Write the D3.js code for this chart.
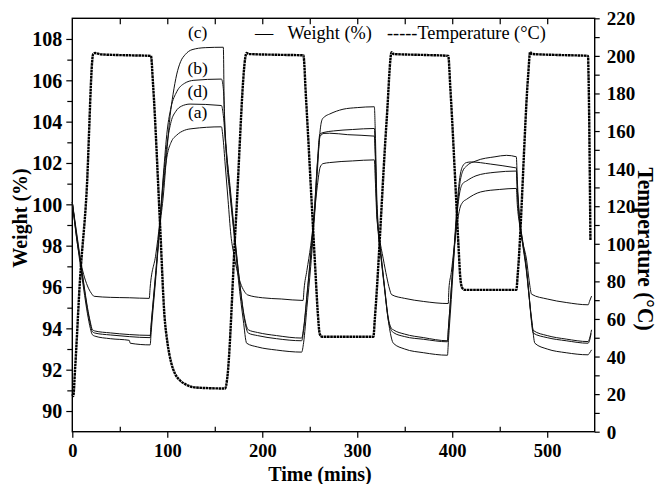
<!DOCTYPE html>
<html><head><meta charset="utf-8">
<script src="https://cdn.jsdelivr.net/npm/d3@7"></script>
<style>
html,body{margin:0;padding:0;background:#fff;}
svg{display:block;font-family:"Liberation Serif","Times New Roman",serif;}
</style></head>
<body><svg id="chart" width="658" height="484"></svg>
<script>
// ---------- data ----------
const tempTime = [0,1,3,8,15,22,24,30,60,82.8, 85,92.5,97,100,104,108,113,120,130,161, 163,172,183.5,186,215,243.3, 246,252,256,258.5,260.5,263,290,317, 318.5,331,336.2,338,370,395.8, 398,404,407,408.5,410.5,413,440,467.5, 469,480,482,484,510,543,543.5,545.5];
const tempValues = [20,19,34,80,127,201,201.5,200.8,200.3,200, 185,109,62,48,37,31,27.5,25,23.5,23, 28,110,201.5,201,200.6,200.3, 178,122,85,63,52,50.5,50.5,50.5, 60,166,202,201,200.5,200, 183,125,95,82,76.5,75.5,75.5,75.5, 84,190,202,201,200.5,200,190,102];

const timeA = [0,2,5,8,12,16,20,23,40,60,81, 82,88,92,96,100,104,110,118,126,157, 158.5,161,164,167,170,173,177,181,184.5, 200,220,243, 244,247,251,255,258,261,264,271,295,318, 319,320.5,323,327.4,331,334,336.2, 350,370,395.8, 396.5,399,402,405,408,411,415,430,450,467.5, 468.5,471,474,478.3,481,483.6, 500,520,543.2, 544.5,546.7];
const weightA = [100.1,99.3,98.2,97.4,96.6,96.05,95.7,95.55,95.5,95.48,95.45, 96.0,97.6,99.1,101.0,102.4,103.0,103.35,103.58,103.66,103.75, 103.3,101.9,100.2,98.5,97.6,96.9,96.2,95.8,95.62, 95.48,95.42,95.35, 95.9,96.8,98.0,99.6,100.9,101.8,101.97,102.02,102.1,102.15, 101.2,99.5,98.5,97.36,96.5,95.9,95.63, 95.45,95.3,95.2, 95.9,96.7,97.9,99.0,99.8,100.1,100.24,100.6,100.72,100.77, 100.0,99.0,98.2,97.3,96.3,95.65, 95.42,95.25,95.14, 95.3,95.56];

const timeB = [0,4,8,12,16,19,21,24,40,60,82, 83,88,92,96,100,104,110,118,128,157, 159,161,164,170,176,181,185.3, 195,215,241.5, 243.5,247,251,255,258,260.7,265,275,295,318, 319,320.5,322,325,329,332.7,336,338, 350,370,395, 396,399,402,405,408,411,415,425,445,467.5, 468.5,471,474,478,481,483,485.3, 500,520,543, 544.5,546.7];
const weightB = [100.1,98.8,97.5,96.2,95.0,94.3,93.95,93.87,93.78,93.7,93.66, 94.2,96.8,99.0,101.5,103.6,104.7,105.45,105.85,106.0,106.06, 105.6,103.5,101.7,98.8,96.3,94.6,93.93, 93.8,93.65,93.53, 94.0,95.6,97.6,99.8,102.0,103.4,103.48,103.55,103.62,103.67, 102.6,100.0,98.8,97.5,95.9,94.5,94.0,93.93, 93.72,93.55,93.4, 94.0,95.9,97.8,99.5,100.6,101.0,101.13,101.38,101.55,101.61, 100.7,99.1,98.1,96.8,95.5,94.6,93.9, 93.65,93.48,93.36, 93.5,93.93];

const timeD = [0,4,8,12,16,19,21,24,40,60,82, 83,88,92,96,100,104,109,115,124,157, 159,162,166,171,176,181,185.3, 195,215,241.5, 243.5,247,251,255,258,261,265,271,290,318, 319,320.5,322,325,329,332.7,336,338, 350,370,395, 396,399,402,405,408,411,415,420,440,465,467.5, 468.5,471,474,478,481,483,485.3, 500,520,543, 544.5,546.2];
const weightD = [100.1,98.7,97.4,96.1,94.9,94.2,93.85,93.77,93.68,93.6,93.55, 94.1,96.7,98.9,101.3,103.0,104.0,104.5,104.75,104.85,104.78, 104.3,102.6,100.9,98.5,96.3,94.5,93.77, 93.65,93.5,93.4, 93.9,95.5,97.5,99.7,101.9,103.3,103.43,103.44,103.37,103.3, 102.3,99.8,98.7,97.4,95.8,94.4,93.9,93.8, 93.6,93.47,93.35, 94.0,95.9,97.9,99.9,101.3,101.85,102.02,102.05,101.95,101.78,101.76, 100.8,99.2,98.2,96.9,95.6,94.5,93.77, 93.55,93.4,93.28, 93.4,93.75];

const timeC = [0,4,8,12,16,19,21,24,40,60,61,82, 83,88,92,96,100,103,106,110,114,119,126,140,159, 160,162,166,170,175,180,183.6, 195,215,241.5, 243.5,247,251,255,258,261,263,266,271,285,300,318, 319,320.5,322,325,328,331,334,338, 350,370,395, 396,399,402,405,408,411,415,425,445,457,467.5, 468.5,471,474,478,481,484,487, 500,520,543, 544.5,546.7];
const weightC = [100.1,98.6,97.2,95.9,94.7,94.0,93.7,93.62,93.5,93.42,93.28,93.2, 93.8,96.5,98.8,100.5,102.8,104.3,105.3,106.3,106.9,107.25,107.48,107.58,107.6, 104.5,102.5,100.5,98.7,96.3,94.4,93.28, 93.1,92.95,92.85, 93.3,95.0,97.0,99.4,101.6,103.6,104.1,104.25,104.37,104.6,104.68,104.72, 103.5,100.5,99.0,97.6,96.3,95.0,94.0,93.28, 93.0,92.82,92.7, 93.4,95.4,97.6,99.6,101.0,101.6,101.85,102.1,102.3,102.37,102.3, 101.2,99.3,98.3,97.0,95.5,94.3,93.28, 93.0,92.82,92.72, 92.8,92.96];

const xTicks = [0,100,200,300,400,500];
const weightTicks = [90,92,94,96,98,100,102,104,106,108];
const tempTicks = [0,20,40,60,80,100,120,140,160,180,200,220];
const seriesLabels = ["(c)","(b)","(d)","(a)"];
const labelValues = [108.05,106.3,105.2,104.2]; // y position in weight units, near the 23 °C plateaus
const legendWeight = "Weight (%)";
const legendTemp = "-----Temperature (°C)";

// ---------- layout ----------
const FONT = "Liberation Serif";
const svg = d3.select("#chart");
const L = 72.3, R = 594.7, T = 18.3, B = 431.7;
const x = d3.scaleLinear().domain([0,550]).range([L,R]);
const yW = d3.scaleLinear().domain([89,109]).range([B,T]);
const yT = d3.scaleLinear().domain([0,220]).range([B,T]);

const zip = (a,b) => a.map((t,i)=>[t,b[i]]);

function styleAxis(g){ g.select(".domain").remove(); g.selectAll(".tick line").attr("stroke","#000").attr("stroke-width",1.2); }
function styleLabels(size){ return g=>g.selectAll("text").attr("font-family",FONT).attr("font-weight","bold").attr("font-size",size).attr("fill","#000"); }

// left major + minor
svg.append("g").attr("transform",`translate(${L},0)`)
  .call(d3.axisLeft(yW).tickValues(weightTicks).tickSize(6).tickPadding(4).tickFormat(d3.format("d")))
  .call(styleAxis).call(styleLabels(20))
  .call(g=>g.selectAll("text").attr("dy","0.34em"));
svg.append("g").attr("transform",`translate(${L},0)`)
  .call(d3.axisLeft(yW).tickValues(d3.range(91,109,2)).tickSize(5).tickFormat(""))
  .call(styleAxis);

// right major + minor
svg.append("g").attr("transform",`translate(${R},0)`)
  .call(d3.axisRight(yT).tickValues(tempTicks).tickSize(5).tickPadding(7).tickFormat(d3.format("d")))
  .call(styleAxis).call(styleLabels(19))
  .call(g=>g.selectAll("text").attr("dy","0.34em"));
svg.append("g").attr("transform",`translate(${R},0)`)
  .call(d3.axisRight(yT).tickValues(d3.range(10,220,20)).tickSize(5).tickFormat(""))
  .call(styleAxis);

// bottom major (outward) + minor (inward)
svg.append("g").attr("transform",`translate(0,${B})`)
  .call(d3.axisBottom(x).tickValues(xTicks).tickSize(6).tickPadding(6).tickFormat(d3.format("d")))
  .call(styleAxis).call(styleLabels(18.5));
svg.append("g").attr("transform",`translate(0,${B})`)
  .call(d3.axisTop(x).tickValues([50,150,250,350,450]).tickSize(5).tickFormat(""))
  .call(styleAxis);

// top ticks (inward)
svg.append("g").attr("transform",`translate(0,${T})`)
  .call(d3.axisBottom(x).tickValues(d3.range(50,550,50)).tickSize(6).tickFormat(""))
  .call(styleAxis);

// frame
svg.append("rect").attr("x",L).attr("y",T).attr("width",R-L).attr("height",B-T)
  .attr("fill","none").attr("stroke","#000").attr("stroke-width",1.4);

// ---------- lines ----------
const lineW = d3.line().x(d=>x(d[0])).y(d=>yW(d[1])).curve(d3.curveMonotoneX);
const lineT = d3.line().x(d=>x(d[0])).y(d=>yT(d[1])).curve(d3.curveMonotoneX);

const weightSeries = [zip(timeA,weightA), zip(timeB,weightB), zip(timeD,weightD), zip(timeC,weightC)];
svg.append("g").selectAll("path").data(weightSeries).join("path")
  .attr("d",lineW).attr("fill","none").attr("stroke","#111").attr("stroke-width",1);

svg.append("path").datum(zip(tempTime,tempValues)).attr("d",lineT)
  .attr("fill","none").attr("stroke","#000").attr("stroke-width",2.4)
  .attr("stroke-dasharray","2.6,0.6");

// ---------- labels ----------
svg.append("g").selectAll("text").data(seriesLabels).join("text")
  .attr("x",x(132)).attr("y",(d,i)=>yW(labelValues[i]))
  .attr("text-anchor","middle").attr("font-family",FONT).attr("font-size",17.5).attr("fill","#000").text(d=>d);

// legend
const lg = svg.append("g").attr("font-family",FONT).attr("font-size",18.3).attr("fill","#000");
lg.append("text").attr("x",255).attr("y",39).text("—");
lg.append("text").attr("x",287.5).attr("y",39).text(legendWeight);
lg.append("text").attr("x",387).attr("y",39).text(legendTemp);

// axis titles
svg.append("text").attr("x",320).attr("y",481).attr("text-anchor","middle").attr("font-family",FONT)
  .attr("font-size",20).attr("font-weight","bold").attr("fill","#000").text("Time (mins)");
svg.append("text").attr("transform","translate(27,218) rotate(-90) scale(1,1.1)").attr("font-family",FONT)
  .attr("text-anchor","middle").attr("font-size",20).attr("font-weight","bold").attr("fill","#000").text("Weight (%)");
svg.append("text").attr("transform","translate(638,249) rotate(90) scale(1,1.05)").attr("font-family",FONT)
  .attr("text-anchor","middle").attr("font-size",21.5).attr("font-weight","bold").attr("fill","#000").text("Temperature (°C)");
</script></body></html>
